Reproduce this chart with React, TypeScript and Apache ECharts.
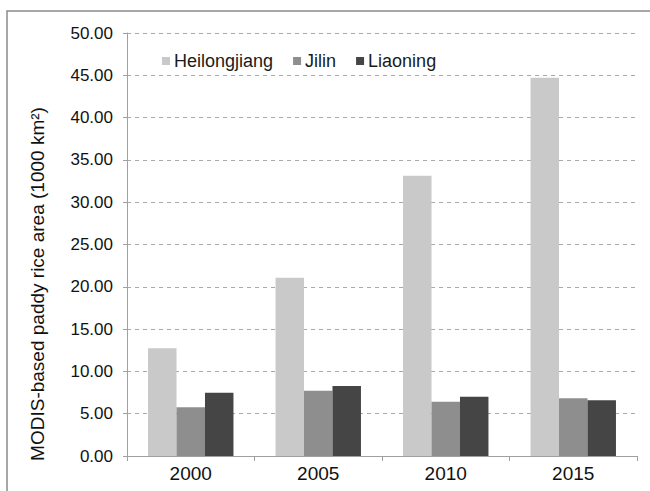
import React, { useEffect, useRef } from "react";
import * as echarts from "echarts";

const categories = ["2000", "2005", "2010", "2015"];
const heilongjiang = [12.73, 21.08, 33.13, 44.72];
const jilin = [5.76, 7.72, 6.42, 6.82];
const liaoning = [7.48, 8.27, 7.01, 6.58];
const seriesNames = ["Heilongjiang", "Jilin", "Liaoning"];
const yTitle = "MODIS-based paddy rice area (1000 km²)";

export default function App() {
  const ref = useRef<HTMLDivElement>(null);
  useEffect(() => {
    if (!ref.current) return;
    const chart = echarts.init(ref.current, null, { renderer: "svg" });
    const font = "Liberation Sans, Arial, sans-serif";
    chart.setOption({
      animation: false,
      backgroundColor: "#ffffff",
      textStyle: { fontFamily: font },
      grid: { left: 127, right: 13, top: 33, bottom: 35, containLabel: false },
      legend: {
        left: 157,
        top: 47,
        itemWidth: 8,
        itemHeight: 8,
        itemGap: 20,
        icon: "rect",
        textStyle: { fontSize: 18, color: "#1a1a1a", fontFamily: font, padding: [0, 0, 0, -1] },
        data: seriesNames,
      },
      xAxis: {
        type: "category",
        data: categories,
        axisLine: { lineStyle: { color: "#a0a0a0", width: 1 } },
        axisTick: { show: true, length: 5, alignWithLabel: false, lineStyle: { color: "#a0a0a0" } },
        axisLabel: { fontSize: 19, color: "#111", margin: 8, fontFamily: font },
      },
      yAxis: {
        type: "value",
        min: 0,
        max: 50,
        interval: 5,
        axisLine: { show: true, lineStyle: { color: "#a0a0a0", width: 1 } },
        axisTick: { show: true, length: 4, lineStyle: { color: "#a0a0a0" } },
        axisLabel: {
          fontSize: 17,
          color: "#111",
          margin: 14,
          fontFamily: font,
          formatter: (v: number) => v.toFixed(2),
        },
        splitLine: { show: true, lineStyle: { color: "#a8a8a8", type: [4, 4], width: 1 } },
      },
      graphic: [
        {
          type: "rect",
          shape: { x: 7, y: 11, width: 800, height: 700 },
          style: { fill: "none", stroke: "#8a8a8a", lineWidth: 1.5 },
          silent: true,
        },
        {
          type: "text",
          x: 37,
          y: 284,
          rotation: Math.PI / 2,
          style: {
            text: yTitle,
            fontSize: 19,
            fontFamily: font,
            fill: "#111",
            align: "center",
            verticalAlign: "middle",
          },
        },
      ],
      series: [
        { name: seriesNames[0], type: "bar", data: heilongjiang, itemStyle: { color: "#c9c9c9" }, barGap: "0%", barCategoryGap: "33%" },
        { name: seriesNames[1], type: "bar", data: jilin, itemStyle: { color: "#8e8e8e" }, barGap: "0%", barCategoryGap: "33%" },
        { name: seriesNames[2], type: "bar", data: liaoning, itemStyle: { color: "#454545" }, barGap: "0%", barCategoryGap: "33%" },
      ],
    });
    return () => chart.dispose();
  }, []);
  return (
    <div
      ref={ref}
      style={{ position: "fixed", left: 0, top: 0, width: 650, height: 491 }}
    />
  );
}
